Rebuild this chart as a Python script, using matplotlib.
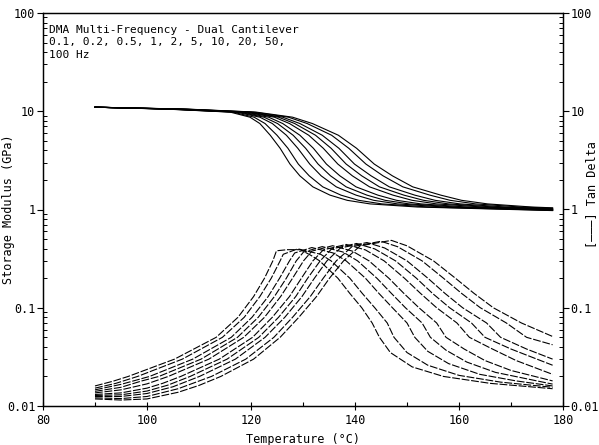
import numpy as np
import matplotlib.pyplot as plt
from matplotlib.ticker import FixedLocator, LogLocator, NullFormatter

plt.rcParams['font.family'] = ['DejaVu Sans Mono', 'DejaVu Sans']

freqs = ['0.1', '0.2', '0.5', '1', '2', '5', '10', '20', '50', '100']

# storage modulus: temperature where each curve crosses these levels (GPa)
E_start = 11.0
E_levels = [10.5, 9.8, 8.7, 7.5, 5.7, 4.2, 2.9, 2.2, 1.7, 1.4, 1.24, 1.14, 1.06]
E_end = [0.975, 0.98, 0.985, 0.99, 0.995, 1.0, 1.01, 1.02, 1.03, 1.04]
E_T = [
    [104.0, 116.0, 119.8, 121.7, 123.7, 125.6, 127.5, 129.4, 131.9, 135.2, 138.5, 142.9, 152.0],
    [104.4, 116.5, 120.6, 122.7, 125.0, 127.1, 129.1, 131.2, 133.8, 137.3, 140.7, 145.2, 154.2],
    [104.9, 117.2, 121.7, 124.1, 126.8, 129.0, 131.3, 133.5, 136.4, 140.2, 143.6, 148.2, 157.1],
    [105.3, 117.7, 122.5, 125.1, 128.1, 130.5, 132.9, 135.3, 138.3, 142.3, 145.8, 150.4, 159.3],
    [105.7, 118.2, 123.4, 126.1, 129.4, 132.0, 134.5, 137.1, 140.2, 144.4, 148.0, 152.7, 161.5],
    [106.3, 118.8, 124.5, 127.4, 131.1, 133.9, 136.7, 139.5, 142.8, 147.3, 151.0, 155.7, 164.5],
    [106.7, 119.3, 125.3, 128.4, 132.4, 135.4, 138.3, 141.3, 144.7, 149.4, 153.2, 158.0, 166.7],
    [107.1, 119.8, 126.1, 129.4, 133.7, 136.9, 139.9, 143.1, 146.6, 151.5, 155.4, 160.2, 168.9],
    [107.6, 120.5, 127.2, 130.8, 135.5, 138.8, 142.1, 145.4, 149.2, 154.4, 158.3, 163.2, 171.8],
    [108.0, 121.0, 128.0, 131.8, 136.8, 140.3, 143.7, 147.2, 151.1, 156.5, 160.5, 165.5, 174.0],
]
T_first, T_last = 90, 178

# tan delta curves, one list of temperatures and values per frequency
td_T = [
    [90, 93.5, 96.4, 105.3, 113.3, 117.5, 120.5, 122.6, 124.2, 124.9, 127, 129.5, 131.5, 133.2, 136.7, 139.0, 141.3, 143.3, 144.7, 146.8, 151, 157, 166, 178],
    [90, 94, 98.2, 106.8, 114.5, 118.7, 121.7, 123.9, 125.6, 126.2, 129, 133.4, 135.4, 139.0, 141.4, 143.8, 146.2, 147.5, 150, 154, 160, 168, 178],
    [90, 95, 100.5, 108.8, 116.2, 120.2, 123.3, 125.5, 127.4, 128.4, 131.7, 135.8, 138.3, 142.0, 144.6, 147.2, 150.0, 151.5, 154, 158, 164, 171, 178],
    [90, 95, 99, 102.3, 110.4, 117.4, 121.4, 124.5, 126.8, 128.7, 130.1, 133.7, 137.7, 140.5, 144.2, 147.0, 149.7, 152.9, 154.5, 157.5, 161.5, 167, 178],
    [90, 95, 100, 104.1, 111.9, 118.6, 122.6, 125.7, 128.0, 130.1, 131.7, 135.7, 139.5, 142.7, 146.5, 149.4, 152.3, 155.7, 157.5, 161, 165, 170, 178],
    [90, 95, 100, 103, 106.5, 113.9, 120.3, 124.1, 127.4, 129.7, 131.9, 133.9, 138.3, 142.0, 145.6, 149.5, 152.6, 155.7, 159.6, 162, 166, 171, 178],
    [90, 95, 100, 104, 108.3, 115.4, 121.5, 125.3, 128.6, 130.9, 133.3, 135.5, 140.3, 143.8, 147.8, 151.8, 154.9, 158.2, 162.4, 165, 170, 178],
    [90, 95, 100, 105, 110.1, 117.0, 122.7, 126.5, 129.8, 132.2, 134.6, 137.2, 142.3, 145.7, 150.0, 154.0, 157.3, 160.7, 165.3, 168, 173, 178],
    [90, 95, 100, 106, 112.4, 119.0, 124.4, 128.0, 131.4, 133.9, 136.4, 139.4, 145.0, 148.2, 152.9, 157.0, 160.5, 164.1, 169.1, 173, 178],
    [90, 95, 100, 106, 110, 114.2, 120.5, 125.6, 129.2, 132.6, 135.1, 137.8, 141.0, 147.0, 150.0, 155.1, 159.3, 162.9, 166.6, 172.0, 178],
]
td_V = [
    [0.016, 0.0179, 0.02, 0.03, 0.05, 0.08, 0.13, 0.2, 0.3, 0.38, 0.39, 0.39, 0.342, 0.3, 0.2, 0.14, 0.1, 0.07, 0.05, 0.035, 0.025, 0.02, 0.017, 0.015],
    [0.0152, 0.017, 0.02, 0.03, 0.05, 0.08, 0.13, 0.2, 0.3, 0.35, 0.398, 0.35, 0.3, 0.2, 0.14, 0.1, 0.07, 0.05, 0.035, 0.026, 0.0205, 0.0175, 0.0155],
    [0.0146, 0.0166, 0.02, 0.03, 0.05, 0.08, 0.13, 0.2, 0.3, 0.361, 0.41, 0.361, 0.3, 0.2, 0.14, 0.1, 0.07, 0.05, 0.036, 0.027, 0.021, 0.018, 0.016],
    [0.0141, 0.0155, 0.018, 0.02, 0.03, 0.05, 0.08, 0.13, 0.2, 0.3, 0.369, 0.419, 0.369, 0.3, 0.2, 0.14, 0.1, 0.07, 0.05, 0.037, 0.028, 0.022, 0.0167],
    [0.0136, 0.0146, 0.0168, 0.02, 0.03, 0.05, 0.08, 0.13, 0.2, 0.3, 0.377, 0.428, 0.377, 0.3, 0.2, 0.14, 0.1, 0.07, 0.05, 0.038, 0.029, 0.023, 0.018],
    [0.0131, 0.0136, 0.0152, 0.017, 0.02, 0.03, 0.05, 0.08, 0.13, 0.2, 0.3, 0.388, 0.441, 0.388, 0.3, 0.2, 0.14, 0.1, 0.07, 0.05, 0.039, 0.029, 0.021],
    [0.0128, 0.013, 0.0142, 0.0163, 0.02, 0.03, 0.05, 0.08, 0.13, 0.2, 0.3, 0.397, 0.451, 0.397, 0.3, 0.2, 0.14, 0.1, 0.07, 0.05, 0.038, 0.026],
    [0.0125, 0.0125, 0.0134, 0.0157, 0.02, 0.03, 0.05, 0.08, 0.13, 0.2, 0.3, 0.406, 0.461, 0.406, 0.3, 0.2, 0.14, 0.1, 0.07, 0.05, 0.038, 0.030],
    [0.0121, 0.0119, 0.0125, 0.015, 0.02, 0.03, 0.05, 0.08, 0.13, 0.2, 0.3, 0.418, 0.475, 0.418, 0.3, 0.2, 0.14, 0.1, 0.07, 0.05, 0.042],
    [0.0118, 0.0115, 0.0118, 0.0138, 0.0162, 0.02, 0.03, 0.05, 0.08, 0.13, 0.2, 0.3, 0.427, 0.485, 0.427, 0.3, 0.2, 0.14, 0.1, 0.07, 0.051],
]

yticks = [0.01, 0.1, 1, 10, 100]
ylabels = ['0.01', '0.1', '1', '10', '100']

fig = plt.figure(figsize=(5.99, 4.45), dpi=100)
ax = fig.add_axes([43 / 599, 1 - 406 / 445, 520 / 599, 393 / 445])
ax2 = ax.twinx()

for i in range(len(freqs)):
    x = [T_first] + E_T[i] + [T_last]
    y = [E_start] + E_levels + [E_end[i]]
    ax.plot(x, y, color='k', lw=0.8)
    ax2.plot(td_T[i], td_V[i], color='k', lw=0.8, dashes=(7, 1.6))

for a in (ax, ax2):
    a.set_yscale('log')
    a.set_ylim(0.01, 100)
    a.set_xlim(80, 180)
    a.yaxis.set_major_locator(FixedLocator(yticks))
    a.set_yticklabels(ylabels)
    a.yaxis.set_minor_locator(LogLocator(base=10, subs=np.arange(2, 10)))
    a.yaxis.set_minor_formatter(NullFormatter())
    a.tick_params(axis='y', which='major', direction='out', length=4, width=0.8, labelsize=8.5, pad=1.5)
    a.tick_params(axis='y', which='minor', direction='in', length=3, width=0.7)
    for s in a.spines.values():
        s.set_linewidth(0.9)

ax.set_xticks(np.arange(80, 181, 20))
ax.set_xticks(np.arange(90, 180, 20), minor=True)
ax.tick_params(axis='x', which='major', direction='inout', length=6, width=0.8, labelsize=8.5, pad=3)
ax.tick_params(axis='x', which='minor', direction='in', length=3, width=0.8)

ax.set_xlabel('Temperature (°C)', fontsize=8.5, labelpad=4)
ax.set_ylabel('Storage Modulus (GPa)', fontsize=8.5)
ax.yaxis.set_label_coords(-28 / 520, 0.5)

ax.text(0.012, 0.97, 'DMA Multi-Frequency - Dual Cantilever\n0.1, 0.2, 0.5, 1, 2, 5, 10, 20, 50,\n100 Hz',
        transform=ax.transAxes, ha='left', va='top', fontsize=8, linespacing=1.3)

fig.text(591.5 / 599, 1 - 195 / 445, '[\u2014\u2014\u2014] Tan Delta', rotation=90,
         ha='center', va='center', fontsize=8.5)

fig.savefig('out.png', dpi=100)
